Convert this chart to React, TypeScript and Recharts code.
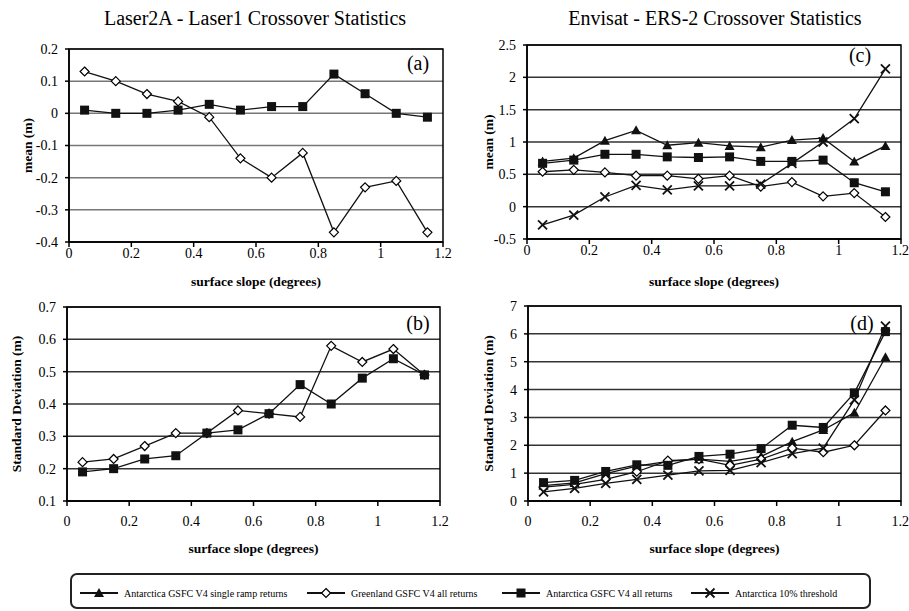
import React from 'react'
import { LineChart, Line, XAxis, YAxis, CartesianGrid, ReferenceArea } from 'recharts'

// slope bin centres (degrees)
const slopes = [0.05, 0.15, 0.25, 0.35, 0.45, 0.55, 0.65, 0.75, 0.85, 0.95, 1.05, 1.15]
const xTicks = [0, 0.2, 0.4, 0.6, 0.8, 1, 1.2]

// (a) Laser2A - Laser1 mean
const aGreenland = [0.13, 0.1, 0.06, 0.037, -0.012, -0.14, -0.2, -0.123, -0.37, -0.23, -0.21, -0.37]
const aAntAll = [0.01, 0, 0, 0.01, 0.028, 0.01, 0.021, 0.021, 0.122, 0.061, 0, -0.012]
const aTicks = [-0.4, -0.3, -0.2, -0.1, 0, 0.1, 0.2]

// (b) Laser2A - Laser1 standard deviation
const bGreenland = [0.22, 0.23, 0.27, 0.31, 0.31, 0.38, 0.37, 0.36, 0.58, 0.53, 0.57, 0.49]
const bAntAll = [0.19, 0.2, 0.23, 0.24, 0.31, 0.32, 0.37, 0.46, 0.4, 0.48, 0.54, 0.49]
const bTicks = [0.1, 0.2, 0.3, 0.4, 0.5, 0.6, 0.7]

// (c) Envisat - ERS-2 mean
const cAntRamp = [0.7, 0.75, 1.02, 1.18, 0.95, 0.99, 0.94, 0.92, 1.03, 1.06, 0.7, 0.94]
const cGreenland = [0.54, 0.57, 0.53, 0.48, 0.48, 0.43, 0.48, 0.31, 0.38, 0.16, 0.21, -0.16]
const cAntAll = [0.67, 0.72, 0.81, 0.81, 0.77, 0.76, 0.77, 0.7, 0.7, 0.72, 0.37, 0.23]
const cAnt10 = [-0.28, -0.13, 0.15, 0.33, 0.26, 0.32, 0.32, 0.35, 0.67, 1.0, 1.36, 2.13]
const cTicks = [-0.5, 0, 0.5, 1, 1.5, 2, 2.5]

// (d) Envisat - ERS-2 standard deviation
const dAntRamp = [0.55, 0.65, 0.98, 1.25, 1.42, 1.5, 1.42, 1.6, 2.13, 2.55, 3.17, 5.16]
const dGreenland = [0.5, 0.6, 0.78, 1.05, 1.45, 1.5, 1.28, 1.5, 1.9, 1.75, 2.0, 3.25]
const dAntAll = [0.66, 0.74, 1.06, 1.3, 1.28, 1.6, 1.68, 1.88, 2.72, 2.64, 3.88, 6.08]
const dAnt10 = [0.33, 0.45, 0.63, 0.78, 0.93, 1.08, 1.1, 1.38, 1.7, 1.9, 3.63, 6.28]
const dTicks = [0, 1, 2, 3, 4, 5, 6, 7]

const SERIF = 'Liberation Serif, Times New Roman, serif'

const rowsAB = (g: number[], s: number[]) => slopes.map((x, i) => ({ x, greenland: g[i], antAll: s[i] }))
const rowsCD = (r: number[], g: number[], s: number[], t: number[]) =>
  slopes.map((x, i) => ({ x, antRamp: r[i], greenland: g[i], antAll: s[i], ant10: t[i] }))

const dataA = rowsAB(aGreenland, aAntAll)
const dataB = rowsAB(bGreenland, bAntAll)
const dataC = rowsCD(cAntRamp, cGreenland, cAntAll, cAnt10)
const dataD = rowsCD(dAntRamp, dGreenland, dAntAll, dAnt10)

// marker shapes
const Diamond = ({ cx, cy, r = 4.5 }: any) => (
  <path d={`M${cx},${cy - r}L${cx + r},${cy}L${cx},${cy + r}L${cx - r},${cy}Z`} fill="#fff" stroke="#000" strokeWidth={1.2} />
)
const Square = ({ cx, cy, r = 4.5 }: any) => <rect x={cx - r} y={cy - r} width={r * 2} height={r * 2} fill="#111" />
const Triangle = ({ cx, cy, r = 5 }: any) => (
  <path d={`M${cx},${cy - r}L${cx + r},${cy + r * 0.8}L${cx - r},${cy + r * 0.8}Z`} fill="#111" />
)
const Cross = ({ cx, cy, r = 4.5 }: any) => (
  <path d={`M${cx - r},${cy - r}L${cx + r},${cy + r}M${cx + r},${cy - r}L${cx - r},${cy + r}`} stroke="#111" strokeWidth={1.8} fill="none" />
)

const dotOf = (Shape: any) => (p: any) => (
  <g key={`${p.dataKey}-${p.index}`}>
    <Shape cx={p.cx} cy={p.cy} />
  </g>
)

const tickStyle = { fontSize: 14, fill: '#000', fontFamily: SERIF, style: { fontFamily: SERIF } }
const labelStyle = { fontSize: 13.5, fontWeight: 'bold', fill: '#000', fontFamily: SERIF, textAnchor: 'middle' }

function Panel(props: any) {
  const { data, w, h, margin, yWidth, xHeight, xTickGap, yDomain, yTicks, yLabel, yLabelX, xLabelOffset, gridColor, four } = props
  return (
    <LineChart width={w} height={h} data={data} margin={margin} style={{ fontFamily: SERIF }}>
      <CartesianGrid vertical={false} horizontal stroke={gridColor} strokeWidth={1.5} />
      <XAxis
        type="number"
        dataKey="x"
        domain={[0, 1.2]}
        ticks={xTicks}
        allowDataOverflow
        height={xHeight}
        tick={tickStyle}
        tickSize={5}
        tickMargin={xTickGap}
        axisLine={{ stroke: '#000', strokeWidth: 1.5 }}
        tickLine={{ stroke: '#000', strokeWidth: 1.5 }}
        label={{ value: 'surface slope (degrees)', position: 'insideBottom', offset: xLabelOffset, style: labelStyle }}
      />
      <YAxis
        type="number"
        domain={yDomain}
        ticks={yTicks}
        allowDataOverflow
        width={yWidth}
        tick={tickStyle}
        tickSize={4}
        tickMargin={7}
        axisLine={{ stroke: '#000', strokeWidth: 1.5 }}
        tickLine={{ stroke: '#000', strokeWidth: 1.5 }}
        label={{ value: yLabel, angle: -90, position: 'insideLeft', offset: yLabelX, style: labelStyle }}
      />
      <ReferenceArea x1={0} x2={1.2} y1={yDomain[0]} y2={yDomain[1]} fill="none" stroke="#000" strokeWidth={1.5} />
      {four && (
        <Line dataKey="antRamp" stroke="#111" strokeWidth={1.3} dot={dotOf(Triangle)} isAnimationActive={false} />
      )}
      <Line dataKey="greenland" stroke="#111" strokeWidth={1.3} dot={dotOf(Diamond)} isAnimationActive={false} />
      <Line dataKey="antAll" stroke="#111" strokeWidth={1.3} dot={dotOf(Square)} isAnimationActive={false} />
      {four && <Line dataKey="ant10" stroke="#111" strokeWidth={1.3} dot={dotOf(Cross)} isAnimationActive={false} />}
    </LineChart>
  )
}

const abs = (left: number, top: number): React.CSSProperties => ({ position: 'absolute', left, top })

const centred = (x: number, y: number, size: number): React.CSSProperties => ({
  position: 'absolute',
  left: x,
  top: y,
  transform: 'translate(-50%, -50%)',
  fontSize: size,
  fontFamily: SERIF,
  whiteSpace: 'nowrap',
  color: '#000',
})

const legendItems = [
  { name: 'Antarctica GSFC V4 single ramp returns', Shape: Triangle, x: 80 },
  { name: 'Greenland GSFC V4 all returns', Shape: Diamond, x: 307 },
  { name: 'Antarctica GSFC V4 all returns', Shape: Square, x: 502 },
  { name: 'Antarctica 10% threshold', Shape: Cross, x: 691 },
]

export default function App() {
  return (
    <div style={{ position: 'absolute', left: 0, top: 0, width: 909, height: 611, background: '#fff', overflow: 'hidden', fontFamily: SERIF }}>
      <div style={centred(255, 18, 20)}>Laser2A - Laser1 Crossover Statistics</div>
      <div style={centred(715, 18, 20)}>Envisat - ERS-2 Crossover Statistics</div>

      <div style={abs(0, 0)}>
        <Panel data={dataA} w={460} h={290} margin={{ top: 49, right: 17, left: 0, bottom: 0 }} yWidth={69} xHeight={48} xTickGap={1}
          yDomain={[-0.4, 0.2]} yTicks={aTicks} yLabel="mean (m)" yLabelX={27} xLabelOffset={4} gridColor="#777" />
      </div>
      <div style={abs(0, 290)}>
        <Panel data={dataB} w={460} h={270} margin={{ top: 17, right: 20, left: 0, bottom: 0 }} yWidth={67} xHeight={59} xTickGap={10}
          yDomain={[0.1, 0.7]} yTicks={bTicks} yLabel="Standard Deviation (m)" yLabelX={16} xLabelOffset={7} gridColor="#333" />
      </div>
      <div style={abs(455, 0)}>
        <Panel data={dataC} w={454} h={290} margin={{ top: 45, right: 8, left: 0, bottom: 0 }} yWidth={72} xHeight={51} xTickGap={1}
          yDomain={[-0.5, 2.5]} yTicks={cTicks} yLabel="mean (m)" yLabelX={33} xLabelOffset={4} gridColor="#333" four />
      </div>
      <div style={abs(455, 290)}>
        <Panel data={dataD} w={454} h={270} margin={{ top: 16, right: 8, left: 0, bottom: 0 }} yWidth={73} xHeight={59} xTickGap={10}
          yDomain={[0, 7]} yTicks={dTicks} yLabel="Standard Deviation (m)" yLabelX={33} xLabelOffset={7} gridColor="#333" four />
      </div>

      <div style={centred(418, 63, 20)}>(a)</div>
      <div style={centred(418, 323, 20)}>(b)</div>
      <div style={centred(860, 55, 20)}>(c)</div>
      <div style={centred(862, 323, 20)}>(d)</div>

      {/* shared legend */}
      <div style={{ position: 'absolute', left: 70, top: 573, width: 797, height: 32, border: '2px solid #222', borderRadius: 7 }} />
      {legendItems.map(({ name, Shape, x }) => (
        <div key={name} style={{ position: 'absolute', left: x, top: 585, height: 16, display: 'flex', alignItems: 'center' }}>
          <svg width={38} height={16}>
            <line x1={0} y1={8} x2={38} y2={8} stroke="#111" strokeWidth={2} />
            <Shape cx={19} cy={8} />
          </svg>
          <span style={{ marginLeft: 6, fontSize: 10, fontFamily: SERIF, color: '#000', whiteSpace: 'nowrap' }}>{name}</span>
        </div>
      ))}
    </div>
  )
}
